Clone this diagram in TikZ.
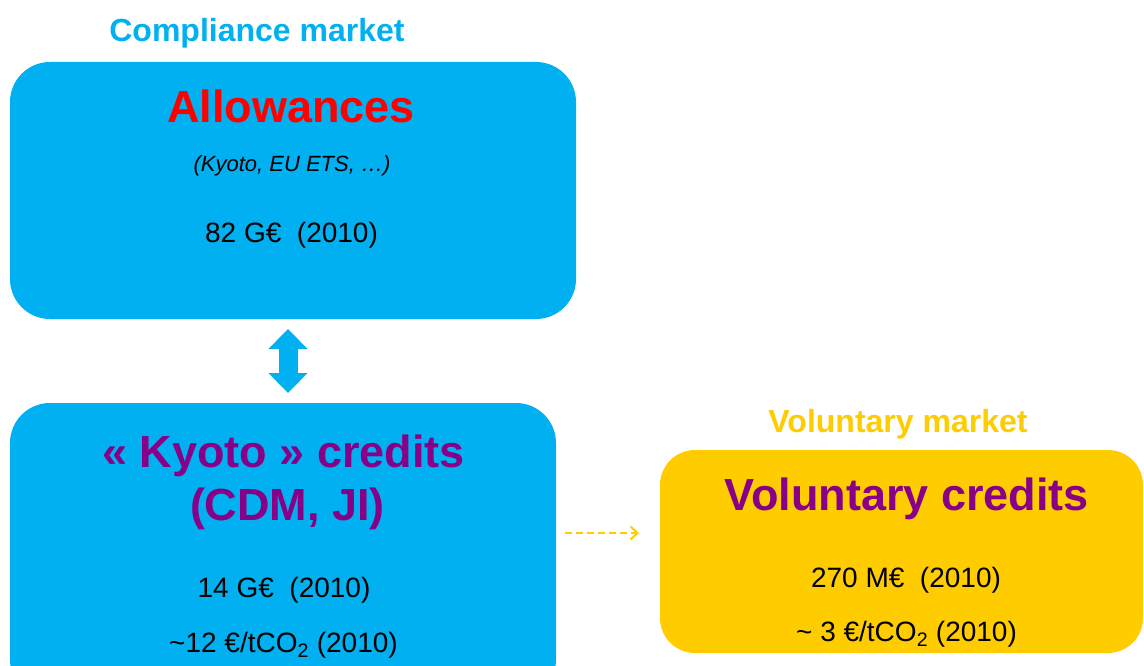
\documentclass[tikz,border=0pt]{standalone}
\usepackage{fontspec}
\setmainfont{Liberation Sans}
\usetikzlibrary{arrows.meta,positioning}

\definecolor{cmblue}{HTML}{00B0F0}
\definecolor{vmyellow}{HTML}{FFCC00}
\definecolor{crpurple}{HTML}{880088}
\definecolor{alred}{HTML}{FF0000}

\newcommand{\headsize}{\fontsize{32}{38}\selectfont\bfseries}
\newcommand{\titlesize}{\fontsize{45}{53}\selectfont\bfseries}
\newcommand{\valsize}{\fontsize{28}{34}\selectfont}
\newcommand{\notesize}{\fontsize{22}{26}\selectfont\itshape}

\begin{document}
\begin{tikzpicture}[x=1pt,y=-1pt,
  mbox/.style={rounded corners=40pt,inner sep=0pt,outer sep=0pt},
  txt/.style={anchor=base,inner sep=0pt},
  updown/.style={cmblue,line width=19pt,shorten <=10pt,shorten >=10pt,
    {Triangle[width=38pt,length=20pt]}-{Triangle[width=38pt,length=20pt]}},
  dasharrow/.style={vmyellow,line width=2pt,dash pattern=on 7pt off 4pt,
    shorten <=9pt,shorten >=21pt,-{Straight Barb[length=7pt,width=13pt]}}]
  \useasboundingbox (0,0) rectangle (1144,666);
  \clip (0,0) rectangle (1144,666);

  % boxes
  \node[mbox,fill=cmblue,minimum width=566pt,minimum height=257pt] (allow) at (293,190.5) {};
  \node[mbox,fill=cmblue,minimum width=546pt,minimum height=297pt] (kyoto) at (283,551.5) {};
  \node[mbox,fill=vmyellow,rounded corners=35pt,minimum width=483pt,minimum height=203pt] (vol) at (901.5,551.5) {};

  % compliance market
  \node[txt,text=cmblue] (comphead) at (257,42) {\headsize Compliance market};
  \node[txt,text=alred] (allowtitle) at (291,123) {\titlesize Allowances};
  \node[txt] (allownote) at (292,172) {\notesize (Kyoto, EU ETS, …)};
  \node[txt] (allowval) at (291.5,242) {\valsize 82 G€~ (2010)};

  \node[txt,text=crpurple] (kyototitle) at (283.5,467) {\titlesize « Kyoto » credits};
  \node[txt,text=crpurple] (kyotosub) at (287.5,520) {\titlesize (CDM, JI)};
  \node[txt] (kyotoval) at (284,597) {\valsize 14 G€~ (2010)};
  \node[txt] (kyotoprice) at (283.5,652) {\valsize \textasciitilde12 €/tCO\textsubscript{2} (2010)};

  % voluntary market
  \node[txt,text=vmyellow] (volhead) at (898,432) {\headsize Voluntary market};
  \node[txt,text=crpurple] (voltitle) at (906.5,510) {\titlesize Voluntary credits};
  \node[txt] (volval) at (906,587) {\valsize 270 M€~ (2010)};
  \node[txt] (volprice) at (906.5,641) {\valsize \textasciitilde\ 3 €/tCO\textsubscript{2} (2010)};

  \draw[updown] ([xshift=-5pt]allow.south) -- ([xshift=5pt]kyoto.north);
  \draw[dasharrow] ([yshift=18.5pt]kyoto.east) -- ([yshift=18.5pt]vol.west);
\end{tikzpicture}
\end{document}
